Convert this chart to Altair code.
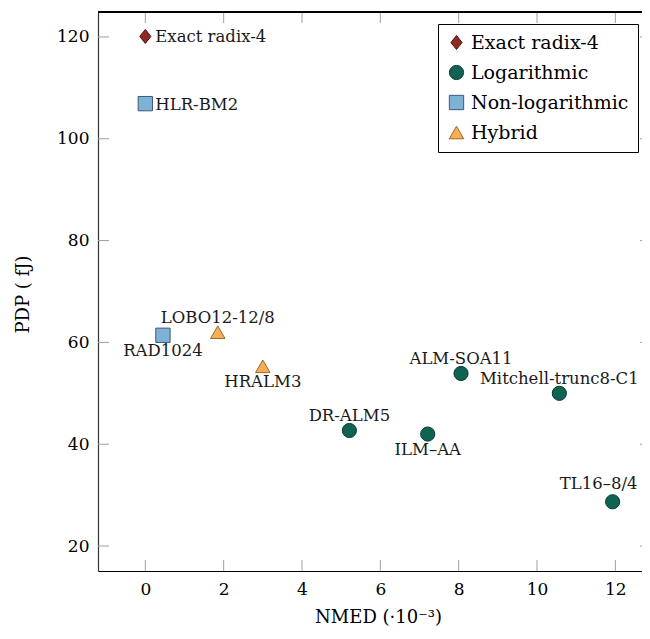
import altair as alt
import pandas as pd

# ---- data ----
names = ["Exact radix-4", "HLR-BM2", "RAD1024", "LOBO12-12/8", "HRALM3",
         "DR-ALM5", "ILM–AA", "ALM-SOA11", "Mitchell-trunc8-C1", "TL16–8/4"]
nmed = [0.0, 0.0, 0.45, 1.85, 3.0, 5.21, 7.21, 8.06, 10.57, 11.93]
pdp = [120.1, 106.9, 61.4, 62.0, 55.3, 42.7, 42.0, 53.9, 50.0, 28.7]
groups = ["Exact radix-4", "Non-logarithmic", "Non-logarithmic", "Hybrid", "Hybrid",
          "Logarithmic", "Logarithmic", "Logarithmic", "Logarithmic", "Logarithmic"]

categories = ["Exact radix-4", "Logarithmic", "Non-logarithmic", "Hybrid"]
x_ticks = [0, 2, 4, 6, 8, 10, 12]
y_ticks = [20, 40, 60, 80, 100, 120]

# ---- styling ----
fills = ["#8c2b23", "#0e6352", "#7db1d6", "#f8ad57"]
strokes = ["#4f1410", "#0a3a30", "#3c5b75", "#9a672c"]
shapes = ["M0,-1L0.8,0L0,1L-0.8,0Z", "circle", "square", "triangle-up"]
sizes = [196, 210, 225, 180]

RIGHT = ["Exact radix-4", "HLR-BM2"]
ABOVE = ["LOBO12-12/8", "DR-ALM5", "ALM-SOA11", "Mitchell-trunc8-C1"]
ABOVE_EDGE = ["TL16–8/4"]
BELOW = ["RAD1024", "HRALM3", "ILM–AA"]

W, H = 544, 559
FONT = "DejaVu Serif"
XDOM = [-1.208, -1.208 + W / 39.17]
YDOM = [15.1, 124.9]

df = pd.DataFrame({"name": names, "nmed": nmed, "pdp": pdp, "group": groups})
xt = pd.DataFrame({"v": x_ticks})
yt = pd.DataFrame({"v": y_ticks})

xs = alt.Scale(domain=XDOM, nice=False, zero=False)
ys = alt.Scale(domain=YDOM, nice=False, zero=False)

x_enc = alt.X("nmed:Q", scale=xs, axis=alt.Axis(
    values=x_ticks, title="NMED (·10⁻³)", grid=False, ticks=False, tickSize=0,
    labelPadding=10, labelFont=FONT, labelFontSize=17, labelColor="#000",
    domainColor="#000", domainWidth=1.2,
    titleFont=FONT, titleFontSize=18, titleFontWeight="normal", titleColor="#000",
    titleX=280, titleY=51, titleBaseline="alphabetic", titleAlign="center"))
y_enc = alt.Y("pdp:Q", scale=ys, axis=alt.Axis(
    values=y_ticks, title="PDP ( fJ)", grid=False, ticks=False, tickSize=0,
    labelPadding=9, labelFont=FONT, labelFontSize=17, labelColor="#000",
    domainColor="#333", domainWidth=1.2,
    titleFont=FONT, titleFontSize=18, titleFontWeight="normal", titleColor="#000",
    titleX=-70, titleY=282, titleBaseline="alphabetic", titleAlign="center", titleAngle=270))

legend = alt.Legend(
    title=None, orient="none", legendX=340, legendY=12,
    strokeColor="#000", fillColor="#fff", padding=9, rowPadding=10,
    symbolSize=220, symbolStrokeColor="#333", symbolStrokeWidth=1,
    labelFont=FONT, labelFontSize=19, labelColor="#000", labelOffset=5,
)

tick_color = "#a0a0a0"
xt_bottom = alt.Chart(xt).mark_rule(color=tick_color, strokeWidth=1).encode(
    x=alt.X("v:Q", scale=xs), y=alt.value(H), y2=alt.value(H - 11))
xt_top = alt.Chart(xt).mark_rule(color=tick_color, strokeWidth=1).encode(
    x=alt.X("v:Q", scale=xs), y=alt.value(0), y2=alt.value(11))
yt_left = alt.Chart(yt).mark_rule(color=tick_color, strokeWidth=1).encode(
    y=alt.Y("v:Q", scale=ys), x=alt.value(0), x2=alt.value(11))
yt_right = alt.Chart(yt).mark_rule(color=tick_color, strokeWidth=1).encode(
    y=alt.Y("v:Q", scale=ys), x=alt.value(W - 2), x2=alt.value(W))
top_border = alt.Chart(xt).mark_rule(color="#000", strokeWidth=1.2).encode(
    x=alt.value(0), x2=alt.value(W), y=alt.value(0))

points = alt.Chart(df).mark_point(filled=True, opacity=1, strokeWidth=1).encode(
    x=x_enc, y=y_enc,
    color=alt.Color("group:N", scale=alt.Scale(domain=categories, range=fills), legend=legend),
    shape=alt.Shape("group:N", scale=alt.Scale(domain=categories, range=shapes), legend=legend),
    stroke=alt.Stroke("group:N", scale=alt.Scale(domain=categories, range=strokes), legend=None),
    size=alt.Size("group:N", scale=alt.Scale(domain=categories, range=sizes), legend=None),
)

def labels(sel, **kw):
    return alt.Chart(df).transform_filter(
        alt.FieldOneOfPredicate(field="name", oneOf=sel)
    ).mark_text(font=FONT, fontSize=16.5, color="#1a1a1a", baseline="alphabetic", **kw).encode(
        x=alt.X("nmed:Q", scale=xs), y=alt.Y("pdp:Q", scale=ys), text="name:N")

lab_right = labels(RIGHT, align="left", dx=10, dy=6)
lab_above = labels(ABOVE, align="center", dy=-9)
lab_edge = labels(ABOVE_EDGE, align="center", dx=-14, dy=-13)
lab_below = labels(BELOW, align="center", dy=21)

chart = alt.layer(
    xt_bottom, xt_top, yt_left, yt_right, top_border,
    points, lab_right, lab_above, lab_edge, lab_below
).properties(
    width=W, height=H,
    autosize=alt.AutoSizeParams(type="none"),
    padding={"left": 90, "top": 4, "right": 0, "bottom": 56},
).configure_view(stroke=None)

chart.save("out.html", embed_options={"renderer": "svg", "actions": False})
